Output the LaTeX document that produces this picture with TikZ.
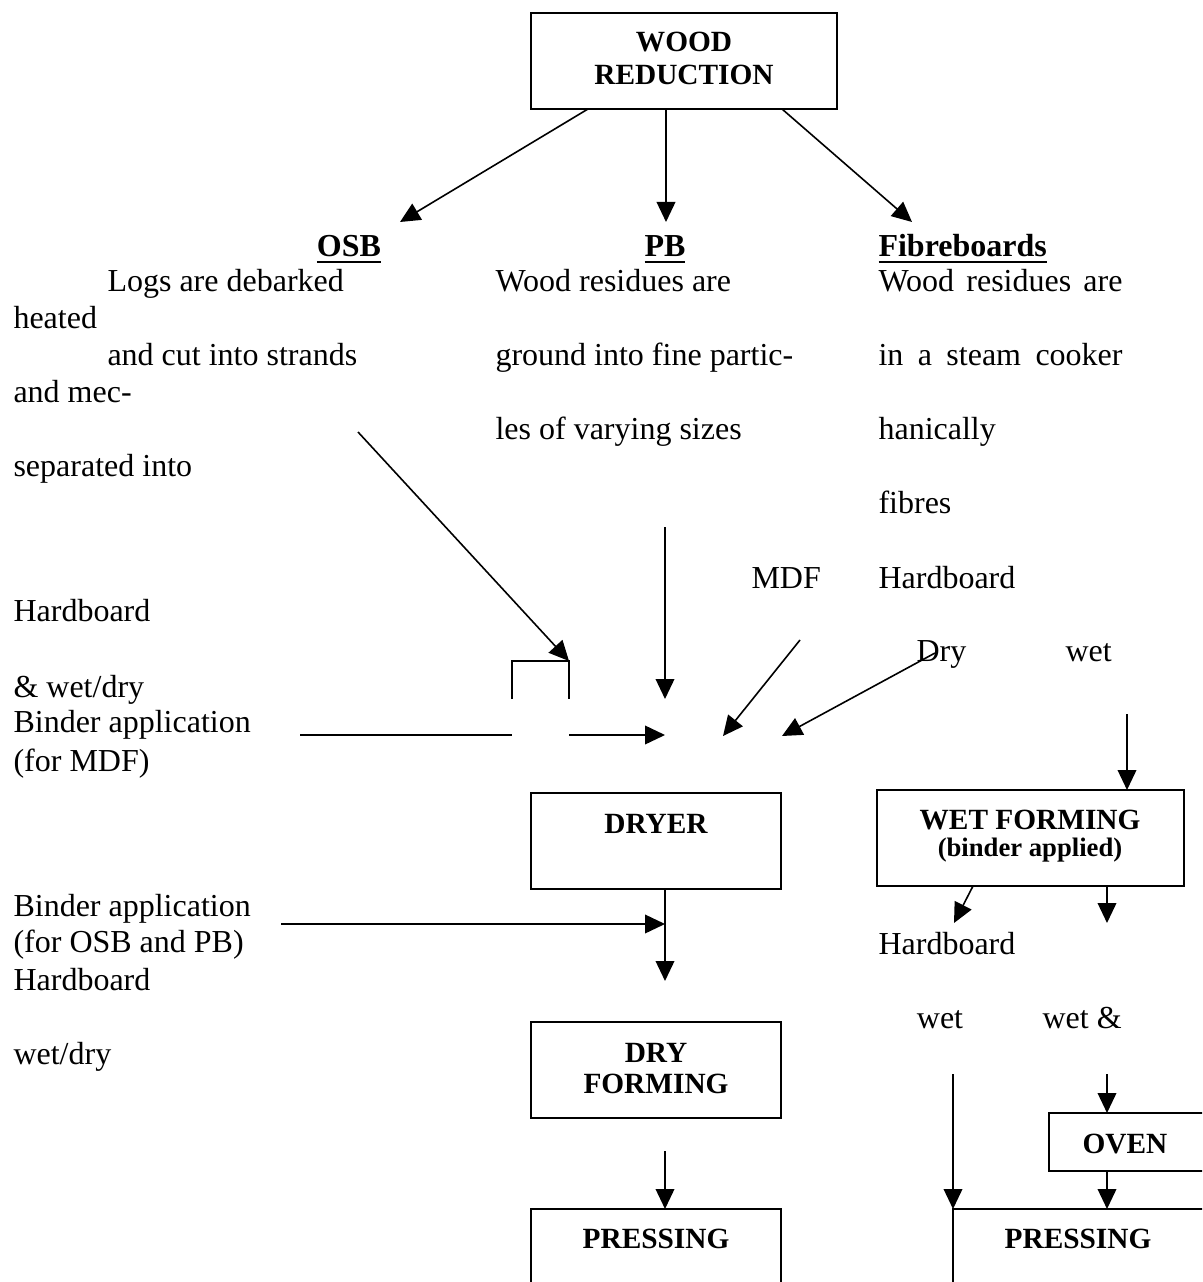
\documentclass[tikz,border=0pt]{standalone}
\usepackage{fontspec}
\setmainfont{Liberation Serif}
\usetikzlibrary{arrows.meta,fit}
\newcommand\ulhead[1]{\setbox0\hbox{#1}\rlap{\rule[-2.4pt]{\wd0}{0.8pt}}\box0}
\begin{document}
\begin{tikzpicture}[x=0.375pt,y=-0.375pt,
  box/.style={draw,line width=0.75pt,inner sep=0pt,fit={#1}},
  conn/.style={line width=0.6pt,-{Triangle[length=7.5pt,width=7pt]}},
  plainln/.style={line width=0.6pt},
  txt/.style={font=\fontsize{12}{14}\selectfont,inner sep=0pt,anchor=base west},
  ctxt/.style={font=\fontsize{12}{14}\selectfont,inner sep=0pt,anchor=base},
  btxt/.style={font=\fontsize{11}{13}\selectfont\bfseries,inner sep=0pt,anchor=base},
  stxt/.style={font=\fontsize{10}{12}\selectfont\bfseries,inner sep=0pt,anchor=base},
  head/.style={font=\fontsize{12}{14}\selectfont\bfseries,inner sep=0pt,anchor=base},
]
\useasboundingbox (0,0) rectangle (1202,1282);
\clip (0,0) rectangle (1202,1282);

% boxes
\node[box={(531,13) (837,109)}] (wood) {};
\node[box={(531,793) (781,889)}] (dryer) {};
\node[box={(877,790) (1184,886)}] (wetform) {};
\node[box={(531,1022) (781,1118)}] (dryform) {};
\node[box={(531,1209) (781,1340)}] (press1) {};
\node[box={(1049,1113) (1240,1171)}] (oven) {};
\node[box={(953,1209) (1240,1340)}] (press2) {};

% box labels
\node[btxt] (woodA) at (684,52) {WOOD};
\node[btxt] (woodB) at (684,85) {REDUCTION};
\node[btxt] (dryerL) at (656,833) {DRYER};
\node[btxt] (wetL) at (1030,829) {WET FORMING};
\node[stxt] (wetL2) at (1030,856) {(binder applied)};
\node[btxt] (dryfA) at (656,1062) {DRY};
\node[btxt] (dryfB) at (656,1093) {FORMING};
\node[btxt] (press1L) at (656,1248) {PRESSING};
\node[btxt] (ovenL) at (1125,1153) {OVEN};
\node[btxt] (press2L) at (1078,1248) {PRESSING};

% headings
\node[head] (hosb) at (349,257) {\ulhead{OSB}};
\node[head] (hpb) at (665,257) {\ulhead{PB}};
\node[head,anchor=base west] (hfib) at (878,257) {\ulhead{Fibreboards}};

% OSB text
\node[txt] (o1) at (107,292) {Logs are debarked};
\node[txt] (o2) at (13,329) {heated};
\node[txt] (o3) at (107,366) {and cut into strands};
\node[txt] (o4) at (13,403) {and mec-};
\node[txt] (o5) at (13,477) {separated into};
% PB text
\node[txt] (p1) at (495,292) {Wood residues are};
\node[txt] (p2) at (495,366) {ground into fine partic-};
\node[txt] (p3) at (495,440) {les of varying sizes};
% Fibreboards text
\node[txt] (f1) at (878,292) {\makebox[91.5pt][s]{Wood residues are}};
\node[txt] (f2) at (878,366) {\makebox[91.5pt][s]{in a steam cooker}};
\node[txt] (f3) at (878,440) {hanically};
\node[txt] (f4) at (878,514) {fibres};
\node[txt] (mdf) at (751,588) {MDF};
\node[txt] (hb1) at (878,588) {Hardboard};
\node[txt] (dry) at (916,661) {Dry};
\node[txt] (wet1) at (1065,661) {wet};

% left labels
\node[txt] (l1) at (13,621) {Hardboard};
\node[txt] (l2) at (13,697) {\& wet/dry};
\node[txt] (l3) at (13,732) {Binder application};
\node[txt] (l4) at (13,771) {(for MDF)};
\node[txt] (l5) at (13,916) {Binder application};
\node[txt] (l6) at (13,952) {(for OSB and PB)};
\node[txt] (l7) at (13,990) {Hardboard};
\node[txt] (l8) at (13,1064) {wet/dry};

% right lower labels
\node[txt] (hb2) at (878,954) {Hardboard};
\node[ctxt] (wet2) at (940,1028) {wet};
\node[txt] (wet3) at (1042,1028) {wet \&};

% coordinates
\coordinate (wA) at (588,109);
\coordinate (wB) at (666,109);
\coordinate (wC) at (782,109);
\coordinate (osbT) at (400,222);
\coordinate (pbT) at (666,222);
\coordinate (fibT) at (912,222);
\coordinate (osbS) at (358,432);
\coordinate (brL) at (512,699);
\coordinate (brLt) at (512,661);
\coordinate (brRt) at (569,661);
\coordinate (brR) at (569,699);
\coordinate (mbS) at (300,735);
\coordinate (mbE) at (512,735);
\coordinate (mbS2) at (569,735);
\coordinate (mbT) at (665,735);
\coordinate (pbS) at (665,527);
\coordinate (pbE) at (665,699);
\coordinate (mdfS) at (800,640);
\coordinate (mdfT) at (723,736);
\coordinate (dryS) at (935,653);
\coordinate (dryT) at (782,736);
\coordinate (wetS) at (1127,714);
\coordinate (wetT) at (1127,790);
\coordinate (obS) at (281,924);
\coordinate (obT) at (665,924);
\coordinate (drB) at (665,889);
\coordinate (drT) at (665,981);
\coordinate (wfA) at (973,886);
\coordinate (wfAT) at (954,923);
\coordinate (wfB) at (1107,886);
\coordinate (wfBT) at (1107,923);
\coordinate (dfB) at (665,1151);
\coordinate (dfT) at (665,1209);
\coordinate (wlS) at (953,1074);
\coordinate (wlT) at (953,1209);
\coordinate (woS) at (1107,1074);
\coordinate (woT) at (1107,1113);
\coordinate (ovB) at (1107,1171);
\coordinate (ovT) at (1107,1209);

% connectors
\draw[conn] (wA) -- (osbT);
\draw[conn] (wB) -- (pbT);
\draw[conn] (wC) -- (fibT);
\draw[conn] (osbS) -- (brRt);
\draw[plainln] (brL) -- (brLt) -- (brRt) -- (brR);
\draw[plainln] (mbS) -- (mbE);
\draw[conn] (mbS2) -- (mbT);
\draw[conn] (pbS) -- (pbE);
\draw[conn] (mdfS) -- (mdfT);
\draw[conn] (dryS) -- (dryT);
\draw[conn] (wetS) -- (wetT);
\draw[conn] (obS) -- (obT);
\draw[conn] (drB) -- (drT);
\draw[conn] (wfA) -- (wfAT);
\draw[conn] (wfB) -- (wfBT);
\draw[conn] (dfB) -- (dfT);
\draw[conn] (wlS) -- (wlT);
\draw[conn] (woS) -- (woT);
\draw[conn] (ovB) -- (ovT);
\end{tikzpicture}
\end{document}
